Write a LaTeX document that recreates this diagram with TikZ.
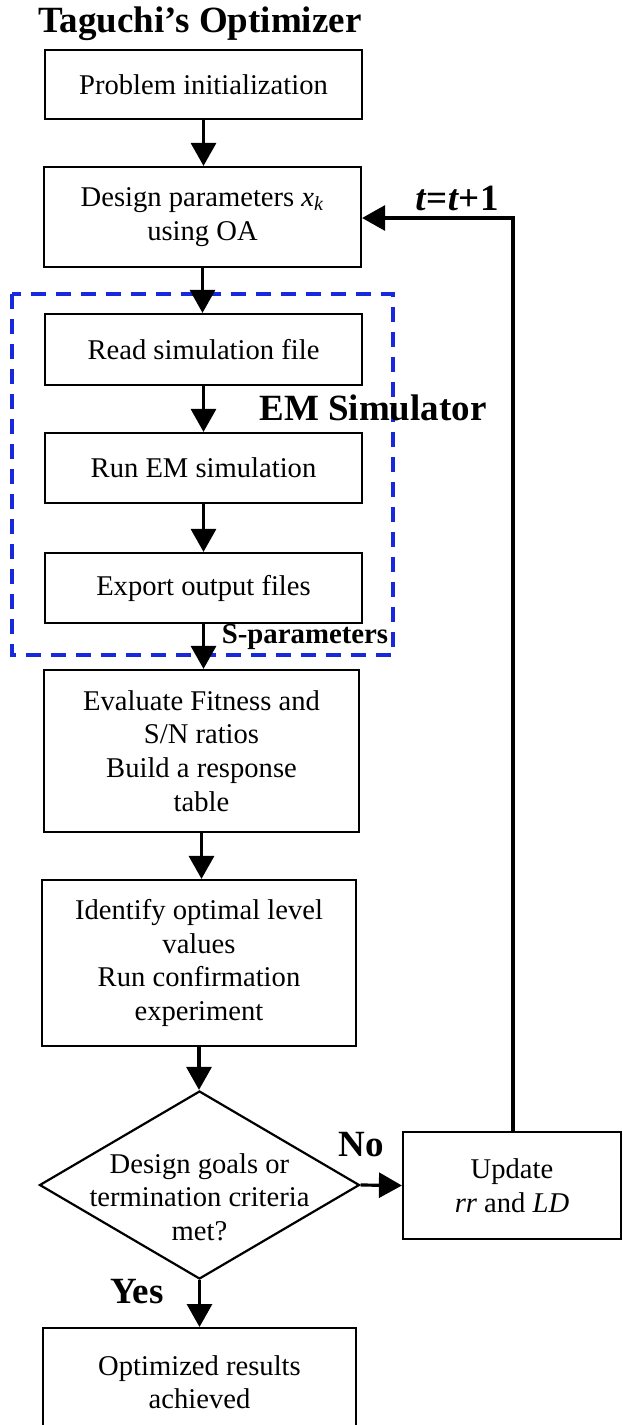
\documentclass[tikz,border=0pt]{standalone}
\usepackage{fontspec}
\setmainfont{Liberation Serif}
\usetikzlibrary{arrows.meta,shapes.geometric}
\definecolor{dashblue}{RGB}{24,40,220}
\begin{document}
\begin{tikzpicture}[x=0.5pt,y=-0.5pt,
  every node/.style={font=\fontsize{14.3}{16.8}\selectfont},
  box/.style={draw,line width=1.1pt,minimum width=158.5pt,align=center,inner sep=2pt},
  arr/.style={line width=1.6pt,-{Triangle[width=12.5pt,length=11.5pt]}},
  lbl/.style={font=\fontsize{18.5}{20}\selectfont\bfseries,inner sep=0pt},
  slbl/.style={font=\fontsize{14.4}{16}\selectfont\bfseries,inner sep=0pt}]
\clip (0,0) rectangle (622,1425);
\useasboundingbox (0,0) rectangle (622,1425);
% emulator frame
\draw[dashblue,line width=1.6pt,dash pattern=on 7.5pt off 5pt] (12,294) rectangle (393,655);
\node[lbl] (title) at (200,24) {Taguchi’s Optimizer};
\node[box,minimum height=34.5pt] (b1) at (203.5,84.5) {Problem initialization};
\node[box,minimum height=50pt] (b2) at (202.5,217) {Design parameters \textit{x}\textsubscript{\textit{k}}\\using OA};
\node[box,minimum height=35.5pt] (b3) at (203.5,349.5) {Read simulation file};
\node[box,minimum height=35pt] (b4) at (203.5,468) {Run EM simulation};
\node[box,minimum height=35pt] (b5) at (203.5,588) {Export output files};
\node[box,minimum width=157.5pt,minimum height=81pt] (b6) at (201.5,751) {Evaluate Fitness and\\S/N ratios\\Build a response\\table};
\node[box,minimum width=157pt,minimum height=83pt] (b7) at (199,963) {Identify optimal level\\values\\Run confirmation\\experiment};
\node[diamond,draw,line width=1.1pt,minimum width=160pt,minimum height=94pt,inner sep=0pt] (dec) at (199.5,1185) {};
\node[align=center,inner sep=0pt] (dectxt) at (199.5,1197) {Design goals or\\termination criteria\\met?};
\node[box,minimum width=109pt,minimum height=53.5pt] (upd) at (512,1185.5) {Update\\\textit{rr} and \textit{LD}};
\node[box,minimum width=156.5pt,minimum height=54pt,anchor=north] (fin) at (199.5,1327) {Optimized results\\achieved};
\node[lbl] (em) at (373,408) {EM Simulator};
\node[slbl] (sp) at (305,637) {S-parameters};
\node[lbl] (no) at (361,1145) {No};
\node[lbl] (yes) at (137,1292) {Yes};
\node[lbl] (tt) at (457,198) {\textit{t}=\textit{t}+1};
\coordinate (loopc) at (513,218);
% connectors
\draw[arr] (b1.south) -- (b1.south |- b2.north);
\draw[arr] (b2.south) -- (b2.south |- b3.north);
\draw[arr] (b3.south) -- (b3.south |- b4.north);
\draw[arr] (b4.south) -- (b4.south |- b5.north);
\draw[arr] (b5.south) -- (b5.south |- b6.north);
\draw[arr] (b6.south) -- (b6.south |- b7.north);
\draw[arr] (b7.south) -- (b7.south |- dec.north);
\draw[arr] (dec.south) -- (fin.north);
\draw[arr] (dec.east) -- (upd.west);
\draw[arr] (upd.north -| loopc) -- (loopc) -- (loopc -| b2.east);
\end{tikzpicture}
\end{document}
